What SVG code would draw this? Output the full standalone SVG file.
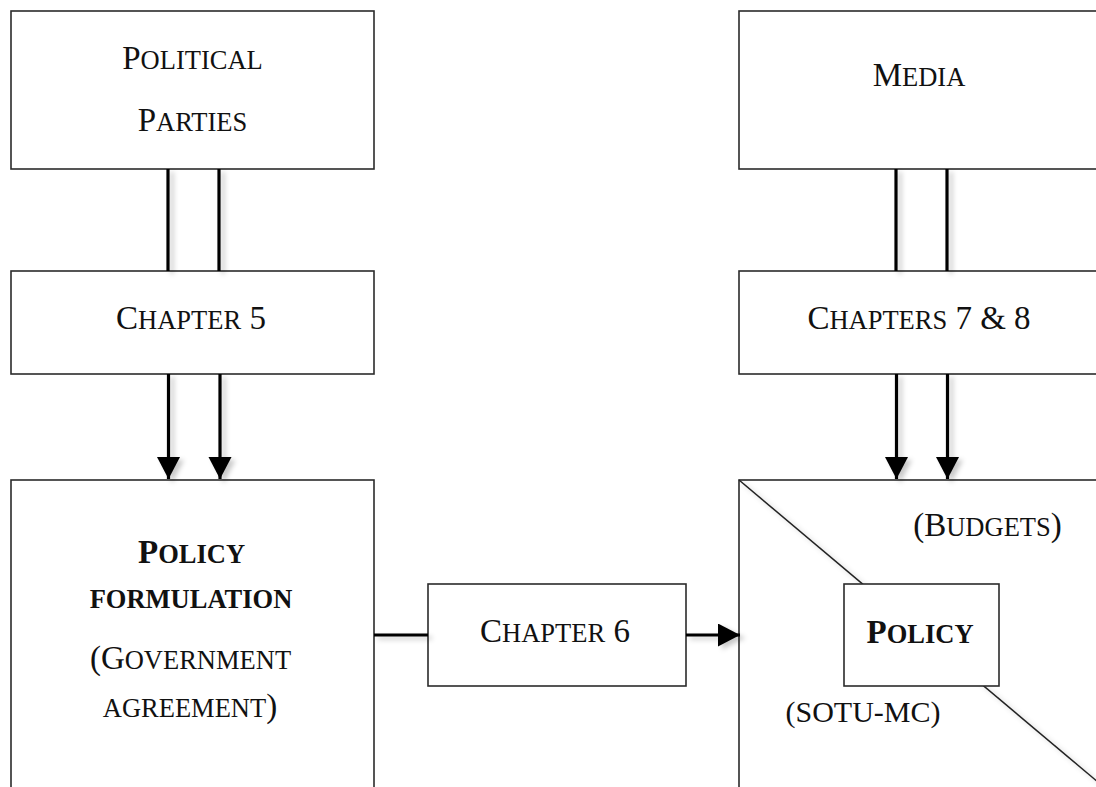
<svg xmlns="http://www.w3.org/2000/svg" width="1096" height="787" viewBox="0 0 1096 787">
<style>
.box{fill:#fff;stroke:#2b2b2b;stroke-width:1.6}
.t{font-family:"Liberation Serif","Times New Roman",serif;fill:#111;text-anchor:middle}
.L{font-size:33px}
.s{font-size:26.5px}
.b{font-weight:bold}
.con{stroke:#000;stroke-width:3.2;fill:none}
</style>
<defs>
<filter id="sh" x="-50%" y="-50%" width="200%" height="200%">
<feDropShadow dx="4" dy="3" stdDeviation="2.5" flood-color="#000" flood-opacity="0.22"/>
</filter>
<marker id="ah" markerUnits="userSpaceOnUse" markerWidth="24" markerHeight="24" refX="22" refY="11.5" orient="auto">
<path d="M0,0 L22,11.5 L0,23 Z" fill="#000"/>
</marker>
</defs>
<rect width="1096" height="787" fill="#fff"/>

<g id="political-parties">
<rect class="box" x="11" y="11" width="363" height="158"/>
<text class="t" x="192.5" y="69"><tspan class="L">P</tspan><tspan class="s">OLITICAL</tspan></text>
<text class="t" x="192.5" y="131"><tspan class="L">P</tspan><tspan class="s">ARTIES</tspan></text>
</g>

<g id="media">
<rect class="box" x="739" y="11" width="380" height="158"/>
<text class="t" x="919" y="86"><tspan class="L">M</tspan><tspan class="s">EDIA</tspan></text>
</g>

<g id="chapter5">
<rect class="box" x="11" y="271" width="363" height="103"/>
<text class="t" x="191" y="329"><tspan class="L">C</tspan><tspan class="s">HAPTER</tspan><tspan class="L"> 5</tspan></text>
</g>

<g id="chapters78">
<rect class="box" x="739" y="271" width="380" height="103"/>
<text class="t" x="919" y="329"><tspan class="L">C</tspan><tspan class="s">HAPTERS</tspan><tspan class="L"> 7 &amp; 8</tspan></text>
</g>

<g id="policy-formulation">
<rect class="box" x="11" y="480" width="363" height="330"/>
<text class="t b" x="191.5" y="563"><tspan class="L">P</tspan><tspan class="s">OLICY</tspan></text>
<text class="t b s" x="191" y="608">FORMULATION</text>
<text class="t" x="190.5" y="669"><tspan class="L">(G</tspan><tspan class="s">OVERNMENT</tspan></text>
<text class="t" x="190" y="717"><tspan class="s">AGREEMENT</tspan><tspan class="L">)</tspan></text>
</g>

<g id="chapter6">
<rect class="box" x="428" y="584" width="258" height="102"/>
<text class="t" x="555" y="642"><tspan class="L">C</tspan><tspan class="s">HAPTER</tspan><tspan class="L"> 6</tspan></text>
</g>

<g id="policy">
<rect class="box" x="739" y="480" width="380" height="330"/>
<line x1="739" y1="480" x2="1105" y2="788" stroke="#222" stroke-width="1.5" filter="url(#sh)"/>
<text class="t" x="987.5" y="536"><tspan class="L">(B</tspan><tspan class="s">UDGETS</tspan><tspan class="L">)</tspan></text>
<rect class="box" x="844" y="584" width="155" height="102"/>
<text class="t b" x="920" y="643"><tspan class="L">P</tspan><tspan class="s">OLICY</tspan></text>
<text class="t" x="863" y="722" style="font-size:30px">(SOTU-MC)</text>
</g>

<g id="connectors" filter="url(#sh)">
<line class="con" x1="168" y1="169" x2="168" y2="271"/>
<line class="con" x1="219" y1="169" x2="219" y2="271"/>
<line class="con" x1="896" y1="169" x2="896" y2="271"/>
<line class="con" x1="947" y1="169" x2="947" y2="271"/>
<line class="con" x1="168.5" y1="374" x2="168.5" y2="479" marker-end="url(#ah)"/>
<line class="con" x1="220" y1="374" x2="220" y2="479" marker-end="url(#ah)"/>
<line class="con" x1="896.5" y1="374" x2="896.5" y2="479" marker-end="url(#ah)"/>
<line class="con" x1="947.5" y1="374" x2="947.5" y2="479" marker-end="url(#ah)"/>
<line class="con" x1="374" y1="635" x2="428" y2="635"/>
<line class="con" x1="686" y1="635" x2="740" y2="635" marker-end="url(#ah)"/>
</g>
</svg>
